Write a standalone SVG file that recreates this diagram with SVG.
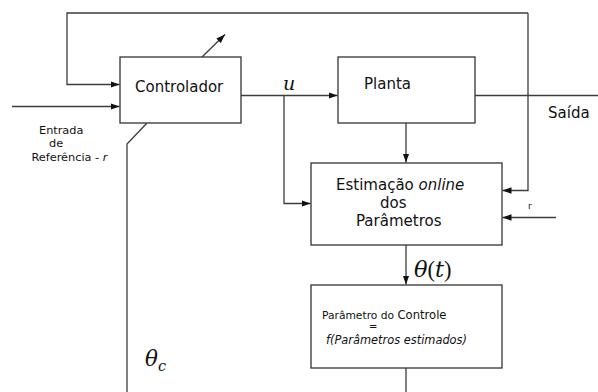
<svg xmlns="http://www.w3.org/2000/svg" width="598" height="392" viewBox="0 0 598 392">
  <defs>
    <marker id="arrow" markerUnits="userSpaceOnUse" markerWidth="10" markerHeight="8" refX="9" refY="4" orient="auto">
      <path d="M0,0.8 L9,4 L0,7.2 Z" fill="#111"/>
    </marker>
    <style>
      .box { fill: #fff; stroke: #333; stroke-width: 1.3; }
      .wire { fill: none; stroke: #3c3c3c; stroke-width: 1.3; }
      .sans { font-family: "DejaVu Sans", "Liberation Sans", sans-serif; fill: #111; }
      .math { font-family: "DejaVu Serif", "Liberation Serif", serif; font-style: italic; fill: #111; }
      .mathr { font-family: "Liberation Serif", "DejaVu Serif", serif; fill: #111; }
    </style>
  </defs>
  <rect width="598" height="392" fill="#fff"/>

  <!-- connectors -->
  <g id="connectors">
    <!-- output feedback loop across the top -->
    <polyline class="wire" points="528,13 67,13 67,84.5 119.5,84.5" marker-end="url(#arrow)"/>
    <polyline class="wire" points="528,13 528,190.5 502.5,190.5" marker-end="url(#arrow)"/>
    <!-- reference input -->
    <line class="wire" x1="12" y1="106.5" x2="119.5" y2="106.5" marker-end="url(#arrow)"/>
    <!-- adjustable controller arrow -->
    <line class="wire" x1="202" y1="57" x2="225" y2="34.5" marker-end="url(#arrow)"/>
    <!-- control signal u -->
    <line class="wire" x1="241" y1="95.5" x2="337.5" y2="95.5" marker-end="url(#arrow)"/>
    <polyline class="wire" points="284,95.5 284,203.5 310.5,203.5" marker-end="url(#arrow)"/>
    <!-- plant output -->
    <line class="wire" x1="475" y1="95.5" x2="598" y2="95.5"/>
    <line class="wire" x1="406" y1="123" x2="406" y2="162.5" marker-end="url(#arrow)"/>
    <!-- reference into estimator -->
    <line class="wire" x1="556" y1="217.5" x2="502.5" y2="217.5" marker-end="url(#arrow)"/>
    <!-- estimated parameters -->
    <line class="wire" x1="406" y1="245" x2="406" y2="284.5" marker-end="url(#arrow)"/>
    <line class="wire" x1="406" y1="368" x2="406" y2="392"/>
    <!-- controller parameter return path -->
    <polyline class="wire" points="147,123 127,144 127,392"/>
  </g>

  <g id="controlador">
    <rect class="box" x="120" y="57" width="121" height="66"/>
    <text class="sans" x="135" y="92" font-size="15">Controlador</text>
  </g>

  <g id="planta">
    <rect class="box" x="338" y="57" width="137" height="66"/>
    <text class="sans" x="364" y="89" font-size="15">Planta</text>
  </g>

  <g id="estimacao">
    <rect class="box" x="311" y="163" width="191" height="82"/>
    <text class="sans" x="336" y="190" font-size="15">Estimação <tspan font-style="italic">online</tspan></text>
    <text class="sans" x="380" y="208" font-size="15">dos</text>
    <text class="sans" x="356" y="226" font-size="15">Parâmetros</text>
  </g>

  <g id="parametro-controle">
    <rect class="box" x="311" y="285" width="191" height="83"/>
    <text class="sans" x="322" y="319" font-size="10.7">Parâmetro do <tspan font-size="11.6">Controle</tspan></text>
    <text class="sans" x="369" y="329.5" font-size="10">=</text>
    <text class="sans" x="326" y="343.5" font-size="11.4" font-style="italic">f(Parâmetros estimados)</text>
  </g>

  <!-- signal labels -->
  <g id="labels">
    <text class="math" x="283" y="89.5" font-size="19">u</text>
    <text class="sans" x="548" y="118" font-size="15">Saída</text>
    <text class="sans" x="39" y="133.5" font-size="11.3">Entrada</text>
    <text class="sans" x="49" y="147" font-size="11.3">de</text>
    <text class="sans" x="31.5" y="160.5" font-size="11.3">Referência - <tspan font-style="italic">r</tspan></text>
    <text class="sans" x="528" y="209" font-size="9">r</text>
    <text x="414" y="277" font-size="22.5"><tspan class="math">θ</tspan><tspan class="mathr">(</tspan><tspan class="math">t</tspan><tspan class="mathr">)</tspan></text>
    <text class="math" x="145" y="366" font-size="21.5">θ<tspan font-size="14.5" dy="4.5">c</tspan></text>
  </g>
</svg>
